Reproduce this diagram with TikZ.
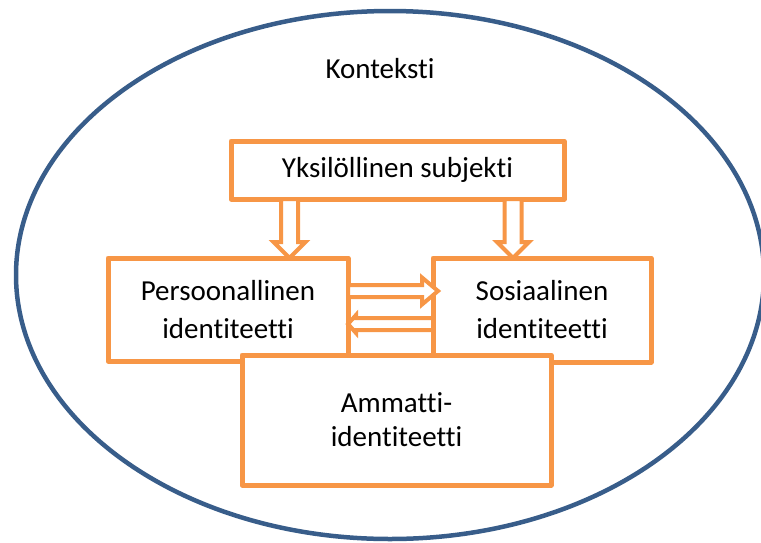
\documentclass[tikz,border=0pt]{standalone}
\usepackage{fontspec}
\setmainfont{Carlito}[Ligatures={NoCommon}]
\usetikzlibrary{calc}

\definecolor{boxorange}{HTML}{F79646}
\definecolor{ctxblue}{HTML}{385D8A}

\tikzset{
  box/.style={draw=boxorange, line width=5pt, fill=white, align=center,
    inner sep=0pt, outer sep=0pt, font=\fontsize{29}{38}\selectfont},
  arframe/.style={shift={(\p1)}, rotate=\n1},
  blockarrow/.style n args={3}{draw=boxorange, fill=white, line width=4pt, line join=miter,
    to path={let \p1=(\tikztostart), \p2=(\tikztotarget),
        \n1={atan2(\y2-\y1,\x2-\x1)}, \n2={veclen(\x2-\x1,\y2-\y1)} in
      ([arframe]0pt,-#1) -- ([arframe]\n2-#3,-#1) -- ([arframe]\n2-#3,-#2)
      -- ([arframe]\n2,0pt) -- ([arframe]\n2-#3,#2) -- ([arframe]\n2-#3,#1)
      -- ([arframe]0pt,#1) -- cycle}},
}

\begin{document}
\begin{tikzpicture}[x=1pt,y=-1pt,line cap=round,line join=round]
  \useasboundingbox (0,0) rectangle (761,542);
  \clip (0,0) rectangle (761,542);
  \draw[ctxblue,line width=4.5pt] (390,275) ellipse[x radius=374pt,y radius=264pt];
  \node[font=\fontsize{29}{35}\selectfont] (ktx) at (380,69) {Konteksti};

  \node[box,minimum width=333pt,minimum height=58pt] (yks) at (397.5,170) {Yksilöllinen subjekti};
  \node[box,minimum width=240pt,minimum height=103pt] (pers) at (228,309.5) {Persoonallinen\\identiteetti};
  \node[box,minimum width=218pt,minimum height=104pt] (sos) at (542,310) {Sosiaalinen\\identiteetti};
  \node[box,minimum width=309pt,minimum height=130pt,font=\fontsize{29}{34}\selectfont]
    (amm) at (396.5,420) {Ammatti-\\identiteetti};

  \draw[blockarrow={8.5pt}{16pt}{16pt}] (289.5,0 |- yks.south) to (289.5,0 |- pers.north);
  \draw[blockarrow={8.5pt}{16pt}{16pt}] (513,0 |- yks.south) to (513,0 |- sos.north);
  \draw[blockarrow={6pt}{13.5pt}{16pt}] (pers.east |- 0,291) to ($(sos.west |- 0,291)+(5pt,0)$);
  \draw[blockarrow={6pt}{9pt}{8pt}] (sos.west |- 0,324) to (pers.east |- 0,324);
\end{tikzpicture}
\end{document}
